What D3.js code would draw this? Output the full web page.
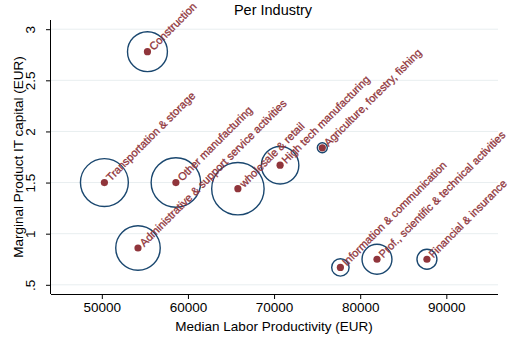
<!DOCTYPE html>
<html>
<head>
<meta charset="utf-8">
<script src="https://cdn.jsdelivr.net/npm/d3@7"></script>
<style>
  body { margin: 0; background: #fff; }
  text { font-family: "Liberation Sans", Arial, Helvetica, sans-serif; }
</style>
</head>
<body>
<svg id="chart" width="510" height="343"></svg>
<script>
// industry data
const industries = [
  "Construction", "Transportation & storage", "Other manufacturing",
  "Administrative & support service activities", "wholesale & retail",
  "High tech manufacturing", "Agriculture, forestry, fishing",
  "Information & communication", "Prof., scientific & technical activities",
  "Financial & insurance"
];
const laborProd = [55300, 50300, 58600, 54200, 65800, 70700, 75600, 77700, 81950, 87750];
const mpCapital = [2.78, 1.50, 1.50, 0.86, 1.44, 1.67, 1.84, 0.67, 0.75, 0.75];
const weight = [400, 576, 615, 497, 690, 353, 25, 76, 225, 100];

const xTicks = [50000, 60000, 70000, 80000, 90000];
const yTicks = [0.5, 1, 1.5, 2, 2.5, 3];
const yTickLabels = [".5", "1", "1.5", "2", "2.5", "3"];

const navy = "#1a476f", maroon = "#90353b";

const svg = d3.select("#chart");

// plot area
const pLeft = 51, pRight = 498, pTop = 20, pBottom = 294;

const x = d3.scaleLinear().domain([44100, 96000]).range([pLeft, pRight]);
const y = d3.scaleLinear().domain([0.41, 3.09]).range([pBottom, pTop]);
const r = d3.scaleSqrt().domain([0, 700]).range([0, 26.4]);

const data = industries.map((name, i) => ({
  name: name, x: laborProd[i], y: mpCapital[i], w: weight[i]
}));

// gridlines
svg.append("g").selectAll("line")
  .data(yTicks)
  .join("line")
  .attr("x1", pLeft).attr("x2", pRight)
  .attr("y1", d => y(d)).attr("y2", d => y(d))
  .attr("stroke", "#e8eef0").attr("stroke-width", 1);

// axes
const xAxis = svg.append("g")
  .attr("transform", `translate(0,${pBottom})`)
  .call(d3.axisBottom(x).tickValues(xTicks).tickFormat(d3.format("d")).tickSize(5).tickPadding(3));
xAxis.select(".domain").attr("d", `M${pLeft},0.5H${pRight}`).attr("stroke", "#000");
xAxis.selectAll("text").attr("font-size", 13.5).attr("fill", "#000")
  .style("font-family", "'Liberation Sans', Arial, sans-serif");

const yAxis = svg.append("g")
  .attr("transform", `translate(${pLeft},0)`)
  .call(d3.axisLeft(y).tickValues(yTicks).tickFormat((d, i) => yTickLabels[i]).tickSize(5));
yAxis.select(".domain").attr("d", `M-0.5,${pTop}V${pBottom}`).attr("stroke", "#000");
yAxis.selectAll(".tick text")
  .attr("x", null).attr("dy", null)
  .attr("text-anchor", "middle")
  .attr("transform", "translate(-16,0) rotate(-90)")
  .attr("font-size", 13.5).attr("fill", "#000")
  .style("font-family", "'Liberation Sans', Arial, sans-serif");

// titles
svg.append("text")
  .attr("x", 273).attr("y", 15)
  .attr("text-anchor", "middle")
  .attr("font-size", 14.5)
  .text("Per Industry");

svg.append("text")
  .attr("x", 274).attr("y", 331)
  .attr("text-anchor", "middle")
  .attr("font-size", 13.5)
  .text("Median Labor Productivity (EUR)");

svg.append("text")
  .attr("transform", `translate(23,${(pTop + pBottom) / 2}) rotate(-90)`)
  .attr("text-anchor", "middle")
  .attr("font-size", 13.5)
  .text("Marginal Product IT capital (EUR)");

// bubbles
svg.append("g").selectAll("circle")
  .data(data)
  .join("circle")
  .attr("cx", d => x(d.x)).attr("cy", d => y(d.y))
  .attr("r", d => r(d.w))
  .attr("fill", "none")
  .attr("stroke", navy).attr("stroke-width", 1.4);

// markers
svg.append("g").selectAll("circle")
  .data(data)
  .join("circle")
  .attr("cx", d => x(d.x)).attr("cy", d => y(d.y))
  .attr("r", 3.6)
  .attr("fill", maroon);

// labels at 45 degrees
svg.append("g").selectAll("text")
  .data(data)
  .join("text")
  .attr("transform", d => `translate(${x(d.x)},${y(d.y)}) rotate(-45)`)
  .attr("x", 5)
  .attr("dy", "0.35em")
  .attr("font-size", 11)
  .attr("fill", maroon)
  .attr("stroke", maroon).attr("stroke-width", 0.3)
  .text(d => d.name);
</script>
</body>
</html>
